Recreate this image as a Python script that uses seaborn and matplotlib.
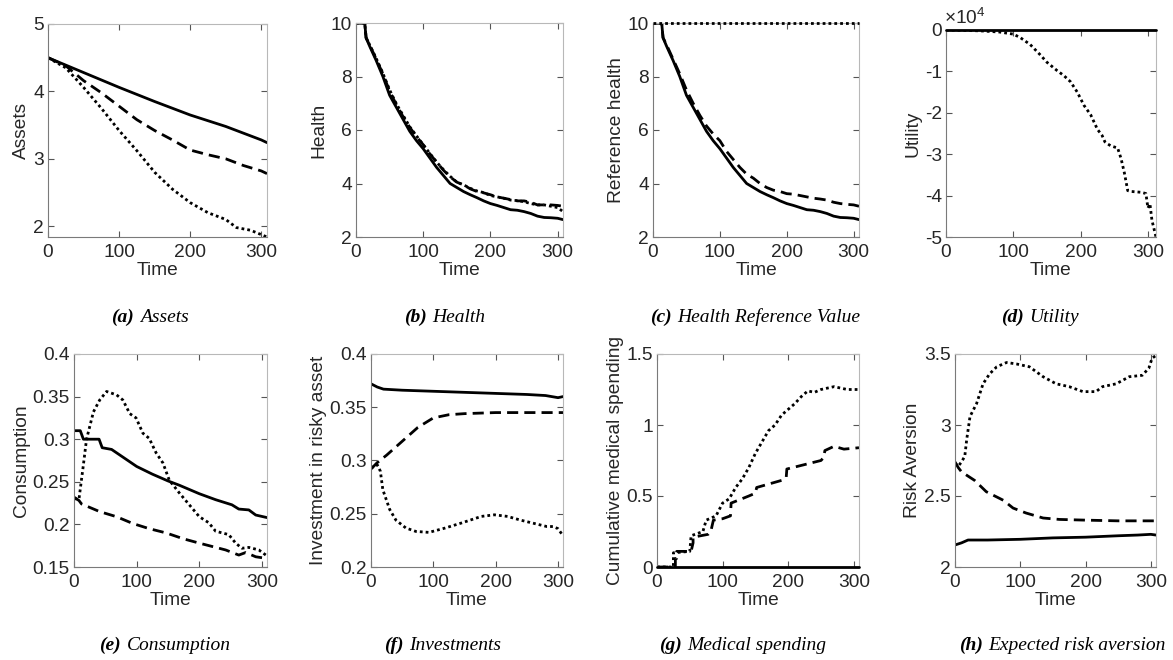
import numpy as np
import pandas as pd
import matplotlib
matplotlib.use("Agg")
import matplotlib.pyplot as plt
import seaborn as sns
from matplotlib.ticker import FuncFormatter, FixedLocator
from matplotlib.offsetbox import TextArea, HPacker, AnchoredOffsetbox

# ---------------- data ----------------
# (a) Assets
a_sol_t = [0, 50, 100, 150, 200, 250, 300, 308]
a_sol_v = [4.5, 4.28, 4.06, 3.85, 3.65, 3.48, 3.28, 3.24]
a_das_t = [0, 25, 50, 75, 100, 125, 150, 175, 200, 225, 250, 275, 300, 308]
a_das_v = [4.5, 4.38, 4.16, 3.98, 3.78, 3.58, 3.42, 3.28, 3.13, 3.06, 3.0, 2.9, 2.82, 2.78]
a_dot_t = [0, 25, 50, 75, 100, 125, 150, 175, 200, 225, 250, 265, 285, 308]
a_dot_v = [4.5, 4.35, 4.06, 3.75, 3.42, 3.12, 2.8, 2.55, 2.35, 2.2, 2.1, 1.98, 1.94, 1.84]

# (b) Health and (c) Reference health share a time grid
h_t = [0, 13, 15, 20, 30, 40, 50, 60, 70, 80, 90, 100, 110, 120, 130, 140, 150,
       160, 170, 180, 190, 200, 210, 220, 230, 240, 250, 260, 270, 280, 290, 300, 308]
b_sol_v = [10, 10, 9.45, 9.15, 8.6, 8.0, 7.3, 6.85, 6.4, 5.95, 5.6, 5.3, 4.95, 4.6, 4.3, 4.0, 3.85,
           3.7, 3.58, 3.47, 3.35, 3.25, 3.18, 3.1, 3.02, 3.0, 2.95, 2.88, 2.78, 2.73, 2.72, 2.7, 2.65]
b_das_v = [10, 10, 9.45, 9.2, 8.65, 8.1, 7.45, 6.95, 6.5, 6.1, 5.75, 5.45, 5.1, 4.8, 4.5, 4.25, 4.05,
           3.95, 3.8, 3.7, 3.65, 3.58, 3.5, 3.45, 3.4, 3.35, 3.35, 3.3, 3.2, 3.2, 3.2, 3.18, 3.15]
b_dot_v = [10, 10, 9.45, 9.2, 8.68, 8.12, 7.5, 6.98, 6.55, 6.12, 5.78, 5.45, 5.12, 4.8, 4.52, 4.27, 4.05,
           3.95, 3.82, 3.72, 3.66, 3.55, 3.5, 3.45, 3.38, 3.36, 3.32, 3.25, 3.2, 3.2, 3.15, 3.1, 2.95]
c_sol_v = b_sol_v
c_das_v = [10, 10, 9.45, 9.2, 8.65, 8.1, 7.5, 7.0, 6.55, 6.15, 5.85, 5.6, 5.2, 4.9, 4.6, 4.35, 4.2,
           4.0, 3.85, 3.75, 3.7, 3.62, 3.6, 3.55, 3.5, 3.45, 3.42, 3.38, 3.3, 3.25, 3.22, 3.2, 3.15]
c_dot_t = [0, 308]
c_dot_v = [10, 10]

# (d) Utility
d_sol_t = [0, 312]
d_sol_v = [0, 0]
d_dot_t = [0, 50, 80, 100, 110, 125, 140, 150, 165, 175, 185, 195, 205, 215, 225, 232, 236, 240,
           245, 255, 260, 265, 270, 275, 290, 297, 300, 303, 306, 312]
d_dot_v = [0, -200, -500, -1000, -1800, -3500, -6000, -7800, -9800, -11000, -12500, -15000,
           -18200, -20500, -24000, -25500, -27000, -27500, -28000, -28500, -31000, -34500,
           -38800, -39000, -39200, -39500, -43000, -42000, -46000, -50000]

# (e) Consumption
e_sol_t = [0, 10, 15, 40, 45, 60, 80, 100, 125, 150, 168, 200, 226, 252, 263, 279, 290, 308]
e_sol_v = [0.31, 0.31, 0.30, 0.30, 0.29, 0.288, 0.278, 0.268, 0.259, 0.251, 0.246, 0.236,
           0.229, 0.223, 0.218, 0.217, 0.211, 0.208]
e_das_t = [0, 8, 12, 41, 68, 94, 120, 147, 175, 200, 242, 263, 274, 290, 308]
e_das_v = [0.232, 0.228, 0.224, 0.215, 0.209, 0.201, 0.195, 0.19, 0.183, 0.178, 0.17,
           0.164, 0.167, 0.162, 0.16]
e_dot_t = [0, 8, 15, 20, 31, 41, 52, 68, 78, 89, 99, 110, 120, 131, 142, 152, 168, 184, 200,
           215, 226, 247, 258, 268, 279, 295, 308]
e_dot_v = [0.23, 0.23, 0.27, 0.30, 0.332, 0.346, 0.356, 0.352, 0.346, 0.33, 0.325, 0.307,
           0.301, 0.284, 0.272, 0.252, 0.237, 0.223, 0.209, 0.202, 0.192, 0.188, 0.178,
           0.172, 0.173, 0.17, 0.163]

# (f) Investments
f_sol_t = [0, 10, 20, 50, 100, 150, 200, 250, 280, 300, 308]
f_sol_v = [0.372, 0.369, 0.367, 0.366, 0.365, 0.364, 0.363, 0.362, 0.361, 0.359, 0.36]
f_das_t = [0, 10, 25, 50, 75, 100, 125, 150, 200, 250, 308]
f_das_v = [0.292, 0.298, 0.305, 0.318, 0.331, 0.34, 0.343, 0.344, 0.345, 0.345, 0.345]
f_dot_t = [0, 10, 15, 19, 30, 40, 56, 72, 93, 119, 145, 177, 198, 219, 240, 261, 282, 292,
           300, 306, 308]
f_dot_v = [0.293, 0.296, 0.29, 0.2725, 0.254, 0.244, 0.2366, 0.2334, 0.2325, 0.2366, 0.2413,
           0.2475, 0.249, 0.2475, 0.244, 0.241, 0.238, 0.238, 0.236, 0.231, 0.23]

# (g) Medical spending
g_sol_t = [0, 308]
g_sol_v = [0, 0]
g_das_t = [0, 28, 28, 30, 30, 52, 55, 55, 78, 82, 86, 100, 112, 113, 140, 150, 152, 190, 197,
           198, 250, 254, 256, 270, 285, 308]
g_das_v = [0, 0, 0.06, 0.06, 0.11, 0.11, 0.17, 0.21, 0.23, 0.25, 0.33, 0.34, 0.36, 0.45, 0.5,
           0.52, 0.56, 0.61, 0.63, 0.69, 0.75, 0.77, 0.82, 0.85, 0.83, 0.84]
g_dot_t = [0, 25, 25, 50, 52, 70, 75, 90, 100, 110, 120, 130, 140, 150, 160, 170, 180, 190,
           200, 210, 220, 230, 240, 250, 260, 270, 280, 290, 308]
g_dot_v = [0, 0, 0.1, 0.11, 0.22, 0.25, 0.33, 0.36, 0.45, 0.48, 0.56, 0.62, 0.70, 0.80, 0.88,
           0.96, 1.0, 1.07, 1.11, 1.15, 1.2, 1.24, 1.23, 1.25, 1.26, 1.27, 1.26, 1.25, 1.25]

# (h) Expected risk aversion
h_sol_t = [0, 10, 20, 50, 100, 150, 200, 250, 280, 300, 308]
h_sol_v = [2.155, 2.17, 2.19, 2.19, 2.195, 2.205, 2.21, 2.22, 2.225, 2.23, 2.225]
h_das_t = [0, 5, 10, 30, 48, 74, 89, 109, 135, 160, 200, 250, 308]
h_das_v = [2.74, 2.7, 2.67, 2.61, 2.53, 2.47, 2.415, 2.38, 2.345, 2.335, 2.33, 2.325, 2.325]
h_dot_t = [0, 5, 10, 15, 18, 23, 33, 43, 53, 64, 79, 94, 114, 135, 155, 175, 196, 216, 226,
           247, 267, 287, 297, 302, 308]
h_dot_v = [2.73, 2.71, 2.74, 2.78, 2.9, 3.06, 3.15, 3.29, 3.36, 3.41, 3.44, 3.43, 3.41, 3.34,
           3.29, 3.27, 3.235, 3.235, 3.27, 3.29, 3.34, 3.35, 3.4, 3.47, 3.49]

x_ticks = [0, 100, 200, 300]
captions = [("(a)", "Assets"), ("(b)", "Health"), ("(c)", "Health Reference Value"),
            ("(d)", "Utility"), ("(e)", "Consumption"), ("(f)", "Investments"),
            ("(g)", "Medical spending"), ("(h)", "Expected risk aversion")]
ylabels = ["Assets", "Health", "Reference health", "Utility", "Consumption",
           "Investment in risky asset", "Cumulative medical spending", "Risk Aversion"]

# ---------------- style ----------------
sns.set_style("ticks")
plt.rcParams["font.family"] = ["Liberation Sans", "DejaVu Sans"]
plt.rcParams["axes.unicode_minus"] = False
plt.rcParams["mathtext.fontset"] = "custom"
plt.rcParams["mathtext.rm"] = "Liberation Sans"
plt.rcParams["mathtext.it"] = "Liberation Sans:italic"
plt.rcParams["mathtext.bf"] = "Liberation Sans:bold"

W, H = 1173, 660
fig = plt.figure(figsize=(W / 100, H / 100), dpi=100)

# pixel boxes (left, right, top, bottom)
boxes = [(48, 267, 24, 237), (356, 563, 23, 237), (653, 859, 23, 237), (946, 1156, 30, 237),
         (74, 267, 354, 567), (371, 563, 354, 567), (657, 859, 354, 567), (955, 1156, 354, 567)]
cap_pos = [(150, 317), (445, 317), (755, 317), (1040, 317),
           (165, 645), (443, 645), (743, 645), (1062, 645)]

LW = 2.0
STY = {"sol": "-", "das": (0, (4, 2.2)), "dot": (0, (1, 1.1))}


def draw(ax, t, v, kind, clip=True):
    df = pd.DataFrame({"t": t, "v": v})
    sns.lineplot(data=df, x="t", y="v", ax=ax, color="black", lw=LW,
                 linestyle=STY[kind], estimator=None, sort=False, clip_on=clip,
                 zorder=2 if clip else 3)


series = [
    [(a_sol_t, a_sol_v, "sol"), (a_das_t, a_das_v, "das"), (a_dot_t, a_dot_v, "dot")],
    [(h_t, b_sol_v, "sol"), (h_t, b_das_v, "das"), (h_t, b_dot_v, "dot")],
    [(h_t, c_sol_v, "sol"), (h_t, c_das_v, "das"), (c_dot_t, c_dot_v, "dot")],
    [(d_dot_t, d_dot_v, "dot"), (d_sol_t, d_sol_v, "sol")],
    [(e_sol_t, e_sol_v, "sol"), (e_das_t, e_das_v, "das"), (e_dot_t, e_dot_v, "dot")],
    [(f_sol_t, f_sol_v, "sol"), (f_das_t, f_das_v, "das"), (f_dot_t, f_dot_v, "dot")],
    [(g_das_t, g_das_v, "das"), (g_dot_t, g_dot_v, "dot"), (g_sol_t, g_sol_v, "sol")],
    [(h_sol_t, h_sol_v, "sol"), (h_das_t, h_das_v, "das"), (h_dot_t, h_dot_v, "dot")],
]
ylims = [(1.84, 5), (2, 10), (2, 10), (-50000, 0), (0.15, 0.4), (0.2, 0.4), (0, 1.5), (2, 3.5)]
yticks = [[2, 3, 4, 5], [2, 4, 6, 8, 10], [2, 4, 6, 8, 10],
          [-50000, -40000, -30000, -20000, -10000, 0],
          [0.15, 0.2, 0.25, 0.3, 0.35, 0.4], [0.2, 0.25, 0.3, 0.35, 0.4],
          [0, 0.5, 1, 1.5], [2, 2.5, 3, 3.5]]
xmaxs = [308, 308, 308, 312, 308, 308, 308, 308]

FS = 13.8
for i in range(8):
    l, r, t, b = boxes[i]
    ax = fig.add_axes([l / W, 1 - b / H, (r - l) / W, (b - t) / H])
    ylo, yhi = ylims[i]
    for tt, vv, kind in series[i]:
        on_edge = all(val in (ylo, yhi) for val in vv)
        draw(ax, tt, vv, kind, clip=not on_edge)
    ax.set_xlim(0, xmaxs[i])
    ax.set_ylim(ylo, yhi)
    ax.xaxis.set_major_locator(FixedLocator(x_ticks))
    ax.yaxis.set_major_locator(FixedLocator(yticks[i]))
    if i == 3:
        ax.yaxis.set_major_formatter(FuncFormatter(lambda v, p: "%g" % (v / 1e4)))
        ax.text(-0.01, 1.01, r"$\times10^4$", transform=ax.transAxes, fontsize=FS,
                color="#262626", ha="left", va="bottom")
    else:
        ax.yaxis.set_major_formatter(FuncFormatter(lambda v, p: "%g" % v))
    ax.xaxis.set_major_formatter(FuncFormatter(lambda v, p: "%g" % v))
    ax.tick_params(direction="in", top=True, right=True, length=4, width=0.8,
                   color="#555555", labelcolor="#262626", labelsize=FS)
    ax.tick_params(axis="x", pad=5)
    ax.tick_params(axis="y", pad=3)
    for side in ["left", "bottom"]:
        ax.spines[side].set_color("#7a7a7a")
        ax.spines[side].set_linewidth(0.8)
    for side in ["top", "right"]:
        ax.spines[side].set_color("#b8b8b8")
        ax.spines[side].set_linewidth(0.8)
    ax.set_xlabel("Time", fontsize=FS, color="#262626", labelpad=1)
    ax.set_ylabel(ylabels[i], fontsize=FS, color="#262626", labelpad=2)

    tag, name = captions[i]
    tp = dict(family="Liberation Serif", style="italic", size=14, color="black")
    box = HPacker(children=[TextArea(tag, textprops=dict(tp, weight="bold")),
                            TextArea(name, textprops=tp)],
                  align="baseline", pad=0, sep=4)
    cx, cy = cap_pos[i]
    anc = AnchoredOffsetbox(loc="center", child=box, pad=0, borderpad=0, frameon=False,
                            bbox_to_anchor=(cx / W, 1 - cy / H),
                            bbox_transform=fig.transFigure)
    fig.add_artist(anc)

fig.savefig("out.png", dpi=100)
